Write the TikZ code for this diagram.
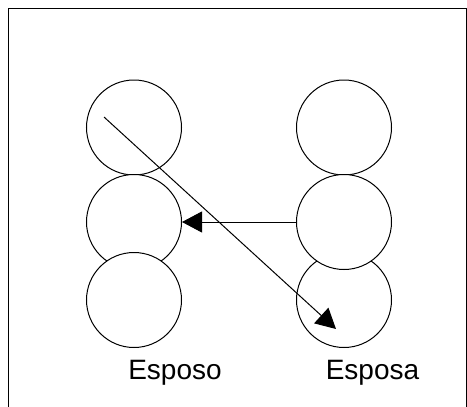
\documentclass[tikz,border=0pt]{standalone}
\usepackage{fontspec}
\setmainfont{Liberation Sans}
\usetikzlibrary{arrows.meta}
\begin{document}
\begin{tikzpicture}[x=1pt,y=-1pt,line width=1pt,
  ring/.style={draw,circle,fill=white,minimum size=95pt,inner sep=0pt},
  tag/.style={anchor=base,font=\fontsize{28}{34}\selectfont},
  tip/.style={-{Triangle[length=20pt,width=21pt]}}]
\useasboundingbox (0,0) rectangle (467,407);
\draw (8,412) -- (8,8) -- (466,8) -- (466,412);
\foreach \n/\x/\y in {
  l1/134/127.5, l2/134/222, l3/134/300,
  r1/344/127.5, r3/344/300, r2/344/222}
    \node[ring] (\n) at (\x,\y) {};
\node[tag] (esposo) at (175,379) {Esposo};
\node[tag] (esposa) at (372.5,379) {Esposa};
\coordinate (from) at (104,117);
\coordinate (to) at (336,329);
\draw[tip] (from) -- (to);
\draw[tip] (r2.west) -- (l2.east);
\end{tikzpicture}
\end{document}
